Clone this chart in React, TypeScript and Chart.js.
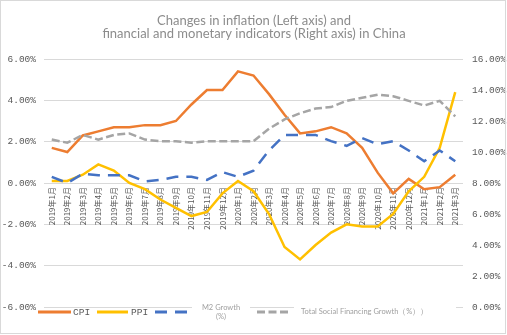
import React, { useEffect, useRef } from 'react';
import { Chart, registerables } from 'chart.js';
Chart.register(...registerables);

const months = [
  '2019年1月', '2019年2月', '2019年3月', '2019年4月', '2019年5月', '2019年6月',
  '2019年7月', '2019年8月', '2019年9月', '2019年10月', '2019年11月', '2019年12月',
  '2020年1月', '2020年2月', '2020年3月', '2020年4月', '2020年5月', '2020年6月',
  '2020年7月', '2020年8月', '2020年9月', '2020年10月', '2020年11月', '2020年12月',
  '2021年1月', '2021年2月', '2021年3月',
];
const cpi = [1.7, 1.5, 2.3, 2.5, 2.7, 2.7, 2.8, 2.8, 3.0, 3.8, 4.5, 4.5, 5.4, 5.2, 4.3, 3.3, 2.4, 2.5, 2.7, 2.4, 1.7, 0.5, -0.5, 0.2, -0.3, -0.2, 0.4];
const ppi = [0.1, 0.1, 0.4, 0.9, 0.6, 0.0, -0.3, -0.8, -1.2, -1.6, -1.4, -0.5, 0.1, -0.4, -1.5, -3.1, -3.7, -3.0, -2.4, -2.0, -2.1, -2.1, -1.5, -0.4, 0.3, 1.7, 4.4];
const m2 = [8.4, 8.0, 8.6, 8.5, 8.5, 8.5, 8.1, 8.2, 8.4, 8.4, 8.2, 8.7, 8.4, 8.8, 10.1, 11.1, 11.1, 11.1, 10.7, 10.4, 10.9, 10.5, 10.7, 10.1, 9.4, 10.1, 9.4];
const tsf = [10.8, 10.6, 11.1, 10.8, 11.1, 11.2, 10.8, 10.7, 10.7, 10.6, 10.7, 10.7, 10.7, 10.7, 11.5, 12.1, 12.5, 12.8, 12.9, 13.3, 13.5, 13.7, 13.6, 13.3, 13.0, 13.3, 12.3];

const titleLines = ['Changes in inflation (Left axis) and', 'financial and monetary indicators (Right axis) in China'];
const seriesNames = ['CPI', 'PPI', 'M2 Growth', 'Total Social Financing Growth（%））'];

const ORANGE = '#ED7D31';
const YELLOW = '#FFC000';
const BLUE = '#4472C4';
const GRAY = '#A5A5A5';
const TICK_FONT = 'Liberation Mono';

const decor = {
  id: 'decor',
  beforeDraw(chart: any) {
    const ctx = chart.ctx;
    ctx.save();
    ctx.fillStyle = '#ffffff';
    ctx.fillRect(0, 0, chart.width, chart.height);
    ctx.restore();
  },
  afterDraw(chart: any) {
    const ctx = chart.ctx;
    ctx.save();
    // title
    ctx.fillStyle = '#8c8c8c';
    ctx.font = '13px Lato';
    ctx.textAlign = 'center';
    ctx.textBaseline = 'middle';
    ctx.fillText(titleLines[0], 254, 21);
    ctx.fillText(titleLines[1], 254, 34);

    // legend
    const ly = 312;
    const seg = (x1: number, x2: number, color: string, dash: number[]) => {
      ctx.beginPath();
      ctx.setLineDash(dash);
      ctx.strokeStyle = color;
      ctx.lineWidth = 3;
      ctx.moveTo(x1, ly);
      ctx.lineTo(x2, ly);
      ctx.stroke();
      ctx.setLineDash([]);
    };
    seg(38, 71, ORANGE, []);
    seg(97, 128, YELLOW, []);
    seg(155, 187, BLUE, [12, 8]);
    seg(257, 289, GRAY, [8, 3.5]);
    ctx.textAlign = 'left';
    ctx.fillStyle = '#595959';
    ctx.font = `9.5px "${TICK_FONT}"`;
    ctx.fillText(seriesNames[0], 73, ly);
    ctx.fillText(seriesNames[1], 131, ly);
    // white boxes behind small labels
    ctx.fillStyle = '#ffffff';
    ctx.fillRect(192, 302, 58, 20);
    ctx.fillRect(294, 302, 162, 20);
    ctx.fillStyle = '#a0a0a0';
    ctx.font = '7.5px Lato';
    ctx.textAlign = 'center';
    ctx.fillText(seriesNames[2], 221, 308);
    ctx.fillText('(%)', 221, 317);
    ctx.textAlign = 'left';
    ctx.fillText(seriesNames[3], 301, ly);

    // border
    ctx.strokeStyle = '#d9d9d9';
    ctx.lineWidth = 1;
    ctx.strokeRect(0.5, 0.5, 505, 333);
    ctx.restore();
  },
};

export default function App() {
  const ref = useRef<HTMLCanvasElement | null>(null);
  useEffect(() => {
    if (!ref.current) return;
    const chart = new Chart(ref.current, {
      type: 'line',
      data: {
        labels: months,
        datasets: [
          { label: seriesNames[0], data: cpi, yAxisID: 'y', borderColor: ORANGE, backgroundColor: ORANGE, borderWidth: 2.5, pointRadius: 0, tension: 0, order: 3 },
          { label: seriesNames[1], data: ppi, yAxisID: 'y', borderColor: YELLOW, backgroundColor: YELLOW, borderWidth: 2.5, pointRadius: 0, tension: 0, order: 2 },
          { label: seriesNames[2], data: m2, yAxisID: 'y1', borderColor: BLUE, backgroundColor: BLUE, borderWidth: 2.5, borderDash: [12, 8], pointRadius: 0, tension: 0, order: 1 },
          { label: seriesNames[3], data: tsf, yAxisID: 'y1', borderColor: GRAY, backgroundColor: GRAY, borderWidth: 2.5, borderDash: [8, 3.5], pointRadius: 0, tension: 0, order: 0 },
        ],
      },
      options: {
        responsive: false,
        animation: false,
        devicePixelRatio: 1,
        layout: { padding: { top: 59, bottom: 28, left: 0, right: 0 } },
        plugins: { legend: { display: false }, title: { display: false }, tooltip: { enabled: false } },
        scales: {
          x: {
            type: 'category',
            position: { y: 0 } as any,
            offset: true,
            grid: { display: false, drawTicks: false },
            border: { display: false },
            ticks: {
              autoSkip: false,
              minRotation: 90,
              maxRotation: 90,
              padding: 4,
              color: '#595959',
              font: { family: '"Noto Sans CJK SC"', size: 8 },
            },
          },
          y: {
            type: 'linear',
            position: 'left',
            min: -6,
            max: 6,
            ticks: {
              stepSize: 2,
              padding: 8,
              color: '#595959',
              font: { family: TICK_FONT, size: 9.5 },
              callback: (v: any) => Number(v).toFixed(2) + '%',
            },
            grid: { color: '#d9d9d9', lineWidth: 1, drawTicks: false },
            border: { display: false },
            afterFit: (s: any) => { s.width = 44; },
          },
          y1: {
            type: 'linear',
            position: 'right',
            min: 0,
            max: 16,
            ticks: {
              stepSize: 2,
              padding: 9,
              color: '#595959',
              font: { family: TICK_FONT, size: 9.5 },
              callback: (v: any) => Number(v).toFixed(2) + '%',
            },
            grid: { display: false, drawTicks: false },
            border: { display: false },
            afterFit: (s: any) => { s.width = 44; },
          },
        },
      },
      plugins: [decor],
    });
    return () => chart.destroy();
  }, []);
  return (
    <div style={{ position: 'fixed', left: 0, top: 0, width: 507, height: 335 }}>
      <canvas ref={ref} width={507} height={335} />
    </div>
  );
}
